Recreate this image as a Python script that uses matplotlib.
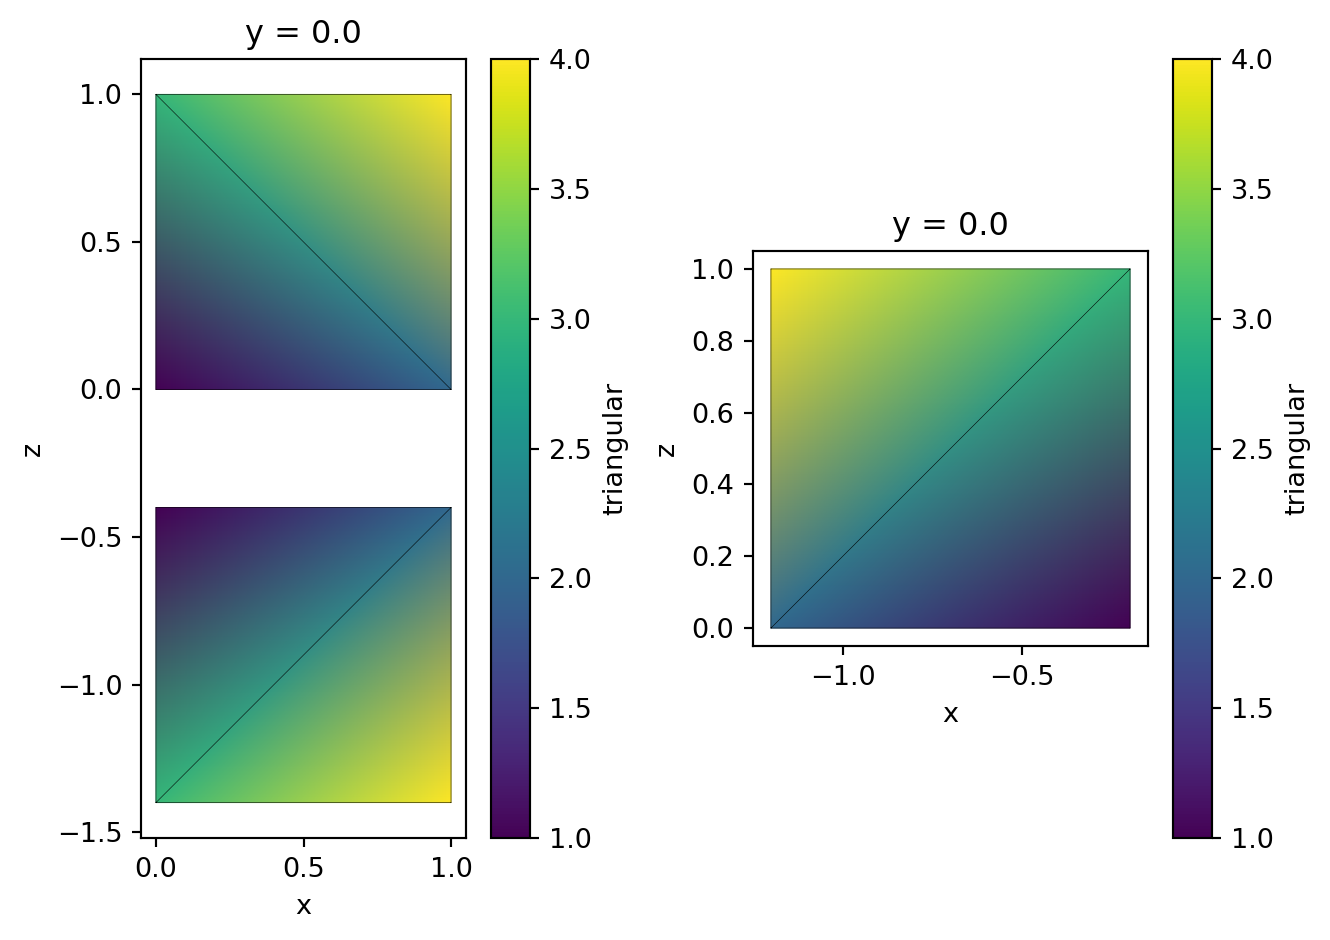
import matplotlib
matplotlib.use("Agg")
import matplotlib.pyplot as plt
import matplotlib.tri as mtri

left_x = [0.0, 1.0, 0.0, 1.0, 0.0, 1.0, 0.0, 1.0]
left_z = [0.0, 0.0, 1.0, 1.0, -0.4, -0.4, -1.4, -1.4]
left_values = [1.0, 2.0, 3.0, 4.0, 1.0, 2.0, 3.0, 4.0]
left_triangles = [[0, 1, 2], [1, 3, 2], [4, 5, 6], [5, 7, 6]]

right_x = [-1.2, -0.2, -1.2, -0.2]
right_z = [0.0, 0.0, 1.0, 1.0]
right_values = [2.0, 1.0, 4.0, 3.0]
right_triangles = [[0, 1, 3], [0, 3, 2]]

W, H = 1330, 940
DPI = 195
fig = plt.figure(figsize=(W / DPI, H / DPI), dpi=DPI)


def box(x0, y0, x1, y1):
    return [x0 / W, 1 - y1 / H, (x1 - x0) / W, (y1 - y0) / H]


def draw(ax_box, cax_box, xs, zs, vals, tris):
    ax = fig.add_axes(box(*ax_box))
    cax = fig.add_axes(box(*cax_box))
    t = mtri.Triangulation(xs, zs, tris)
    m = ax.tripcolor(t, vals, shading="gouraud", cmap="viridis", vmin=1, vmax=4)
    ax.triplot(t, color="k", lw=0.2)
    ax.set_aspect("equal", adjustable="box")
    ax.set_xlabel("x")
    ax.set_ylabel("z")
    ax.set_title("y = 0.0", fontsize=11.8)
    cb = fig.colorbar(m, cax=cax)
    cb.set_label("triangular")
    return ax


axl = draw((141, 59, 466, 838), (491, 59, 530, 838), left_x, left_z, left_values, left_triangles)
axl.set_xticks([0, 0.5, 1.0])
axr = draw((753, 251, 1148, 646), (1173, 59, 1212, 838), right_x, right_z, right_values, right_triangles)
axr.set_xticks([-1.0, -0.5])

fig.savefig("out.png", dpi=DPI)
